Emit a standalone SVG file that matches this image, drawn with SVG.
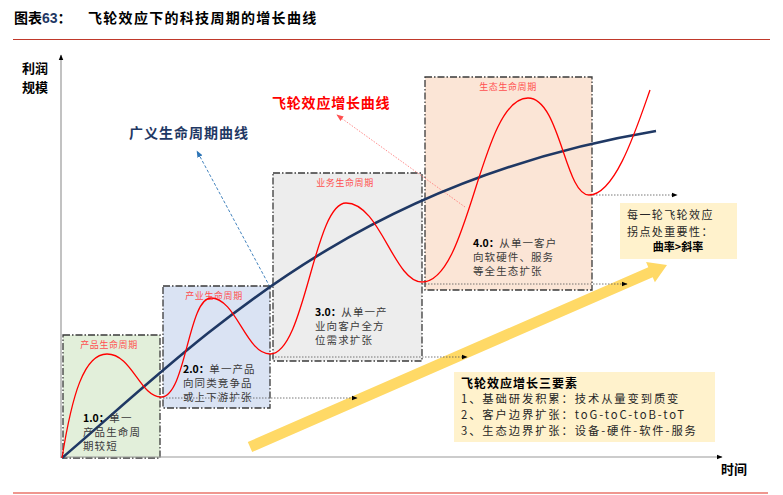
<svg xmlns="http://www.w3.org/2000/svg" width="783" height="495" viewBox="0 0 783 495">
<style>
.cjk{font-family:"Noto Sans CJK SC","Liberation Sans",sans-serif;}
.box{stroke:#3a3a3a;stroke-width:1.3;stroke-dasharray:7 2 1.5 2;}
.lbl{font-size:9px;fill:#ff4f4f;letter-spacing:0.6px;}
.bt{font-size:10.5px;fill:#3a3a3a;letter-spacing:1.1px;}
.bn{font-weight:bold;fill:#000;letter-spacing:0;}
.dot{fill:none;stroke:#555;stroke-width:0.8;stroke-dasharray:1.5 1.5;}
.yt{font-size:11px;fill:#262626;letter-spacing:1.4px;}
.yb{font-size:11.3px;fill:#262626;letter-spacing:1.9px;}
</style>
<defs>
<marker id="ah" viewBox="0 0 10 10" refX="9" refY="5" markerWidth="6" markerHeight="6" orient="auto" markerUnits="userSpaceOnUse">
<path d="M0,1 L10,5 L0,9 Z" fill="#000"/>
</marker>
<marker id="ahb" viewBox="0 0 10 10" refX="9" refY="5" markerWidth="7" markerHeight="7" orient="auto" markerUnits="userSpaceOnUse">
<path d="M0,1 L10,5 L0,9 Z" fill="#2e75b6"/>
</marker>
<marker id="ahr" viewBox="0 0 10 10" refX="9" refY="5" markerWidth="7" markerHeight="7" orient="auto" markerUnits="userSpaceOnUse">
<path d="M0,1 L10,5 L0,9 Z" fill="#ff4f4f"/>
</marker>
</defs>
<rect width="783" height="495" fill="#fff"/>
<g id="title">
<text x="14" y="23" class="cjk" font-size="14" font-weight="bold" fill="#000">图表<tspan font-family="Liberation Sans" fill="#1f3864">63</tspan>：</text>
<text x="88" y="23" class="cjk" font-size="14" font-weight="bold" fill="#000" letter-spacing="1.3">飞轮效应下的科技周期的增长曲线</text>
<line x1="13" y1="39.5" x2="770" y2="39.5" stroke="#c0392b" stroke-width="1.2"/>
<line x1="13" y1="493" x2="768" y2="493" stroke="#e03020" stroke-width="1.2"/>
</g>
<g id="boxes">
<g id="box1"><rect x="63" y="335" width="97" height="123" fill="#e2efda" class="box"/><text x="109" y="348" class="cjk lbl" text-anchor="middle">产品生命周期</text></g>
<g id="box2"><rect x="163" y="286" width="107" height="122" fill="#dae3f3" class="box"/><text x="214" y="299" class="cjk lbl" text-anchor="middle">产业生命周期</text></g>
<g id="box3"><rect x="273" y="173" width="149" height="188" fill="#ededed" class="box"/><text x="345" y="186" class="cjk lbl" text-anchor="middle">业务生命周期</text></g>
<g id="box4"><rect x="425" y="77" width="167" height="213" fill="#fbe5d6" class="box"/><text x="508" y="90" class="cjk lbl" text-anchor="middle">生态生命周期</text></g>
</g>
<g id="axes">
<line x1="61" y1="458" x2="61" y2="55" stroke="#999" stroke-width="1.2" marker-end="url(#ah)"/>
<line x1="61" y1="457" x2="722" y2="457" stroke="#999" stroke-width="1.2" marker-end="url(#ah)"/>
<text x="22" y="73" class="cjk" font-size="13" font-weight="bold" fill="#000">利润</text>
<text x="22" y="92" class="cjk" font-size="13" font-weight="bold" fill="#000">规模</text>
<text x="721" y="474" class="cjk" font-size="13" font-weight="bold" fill="#000">时间</text>
</g>
<g id="yellow-arrow">
<polygon points="252.2,452 247.8,442 648.3,267.2 646.1,262.1 667,265 654.9,282.3 652.7,277.2" fill="#ffd966"/>
</g>
<g id="connectors">
<path class="dot" d="M160,398 L357,398" marker-end="url(#ah)"/>
<path class="dot" d="M272,357 L467,357" marker-end="url(#ah)"/>
<path class="dot" d="M422,284 L627,284" marker-end="url(#ah)"/>
<path class="dot" d="M590,195 L677,195" marker-end="url(#ah)"/>
<path d="M270,287 L197,151" fill="none" stroke="#2e75b6" stroke-width="0.9" stroke-dasharray="3 2" marker-end="url(#ahb)"/>
<path d="M465,207 L337,115" fill="none" stroke="#ff7070" stroke-width="0.8" stroke-dasharray="1.5 1.5" marker-end="url(#ahr)"/>
</g>
<g id="curves">
<path d="M62,458 C200,340 350,182 656,131" fill="none" stroke="#1f3864" stroke-width="2.6"/>
<path d="M62,458 C72,395 84,354 107,354 C132,354 140,397 161,397 C186,397 188,298 211,298 C236,298 246,354 270,354 C305,354 314,203 346,203 C380,203 394,282 422,282 C470,282 480,98 528,98 C560,98 565,195 589,195 C615,195 636,130 650,90" fill="none" stroke="#ff0000" stroke-width="1.3"/>
</g>
<g id="curve-labels">
<text x="129" y="138" class="cjk" font-size="14" font-weight="bold" fill="#1f3864" letter-spacing="1">广义生命周期曲线</text>
<text x="272" y="108" class="cjk" font-size="14" font-weight="bold" fill="#ff0000" letter-spacing="0.8">飞轮效应增长曲线</text>
</g>
<g id="box-texts" class="cjk">
<text x="83" y="422" class="bt"><tspan class="bn">1.0：</tspan>单一</text>
<text x="83" y="436" class="bt">产品生命周</text>
<text x="83" y="450" class="bt">期较短</text>
<text x="183" y="373" class="bt"><tspan class="bn">2.0：</tspan>单一产品</text>
<text x="183" y="387" class="bt">向同类竞争品</text>
<text x="183" y="401" class="bt">或上下游扩张</text>
<text x="315" y="316" class="bt"><tspan class="bn">3.0：</tspan>从单一产</text>
<text x="315" y="330" class="bt">业向客户全方</text>
<text x="315" y="344" class="bt">位需求扩张</text>
<text x="473" y="247" class="bt"><tspan class="bn">4.0：</tspan>从单一客户</text>
<text x="473" y="261" class="bt">向软硬件、服务</text>
<text x="473" y="275" class="bt">等全生态扩张</text>
</g>
<g id="note-right">
<rect x="620" y="203" width="117" height="56" fill="#fff2cc"/>
<text x="627" y="219" class="cjk yt">每一轮飞轮效应</text>
<text x="627" y="236" class="cjk yt">拐点处重要性：</text>
<text x="678" y="251" class="cjk" font-size="11" font-weight="bold" fill="#000" text-anchor="middle">曲率&gt;斜率</text>
</g>
<g id="note-bottom">
<rect x="454" y="372" width="261" height="70" fill="#fff2cc"/>
<text x="461" y="388" class="cjk" font-size="12" font-weight="bold" fill="#000" letter-spacing="1">飞轮效应增长三要素</text>
<text x="461" y="403" class="cjk yb">1、基础研发积累：技术从量变到质变</text>
<text x="461" y="419" class="cjk yb">2、客户边界扩张：toG-toC-toB-toT</text>
<text x="461" y="435" class="cjk yb">3、生态边界扩张：设备-硬件-软件-服务</text>
</g>
</svg>
